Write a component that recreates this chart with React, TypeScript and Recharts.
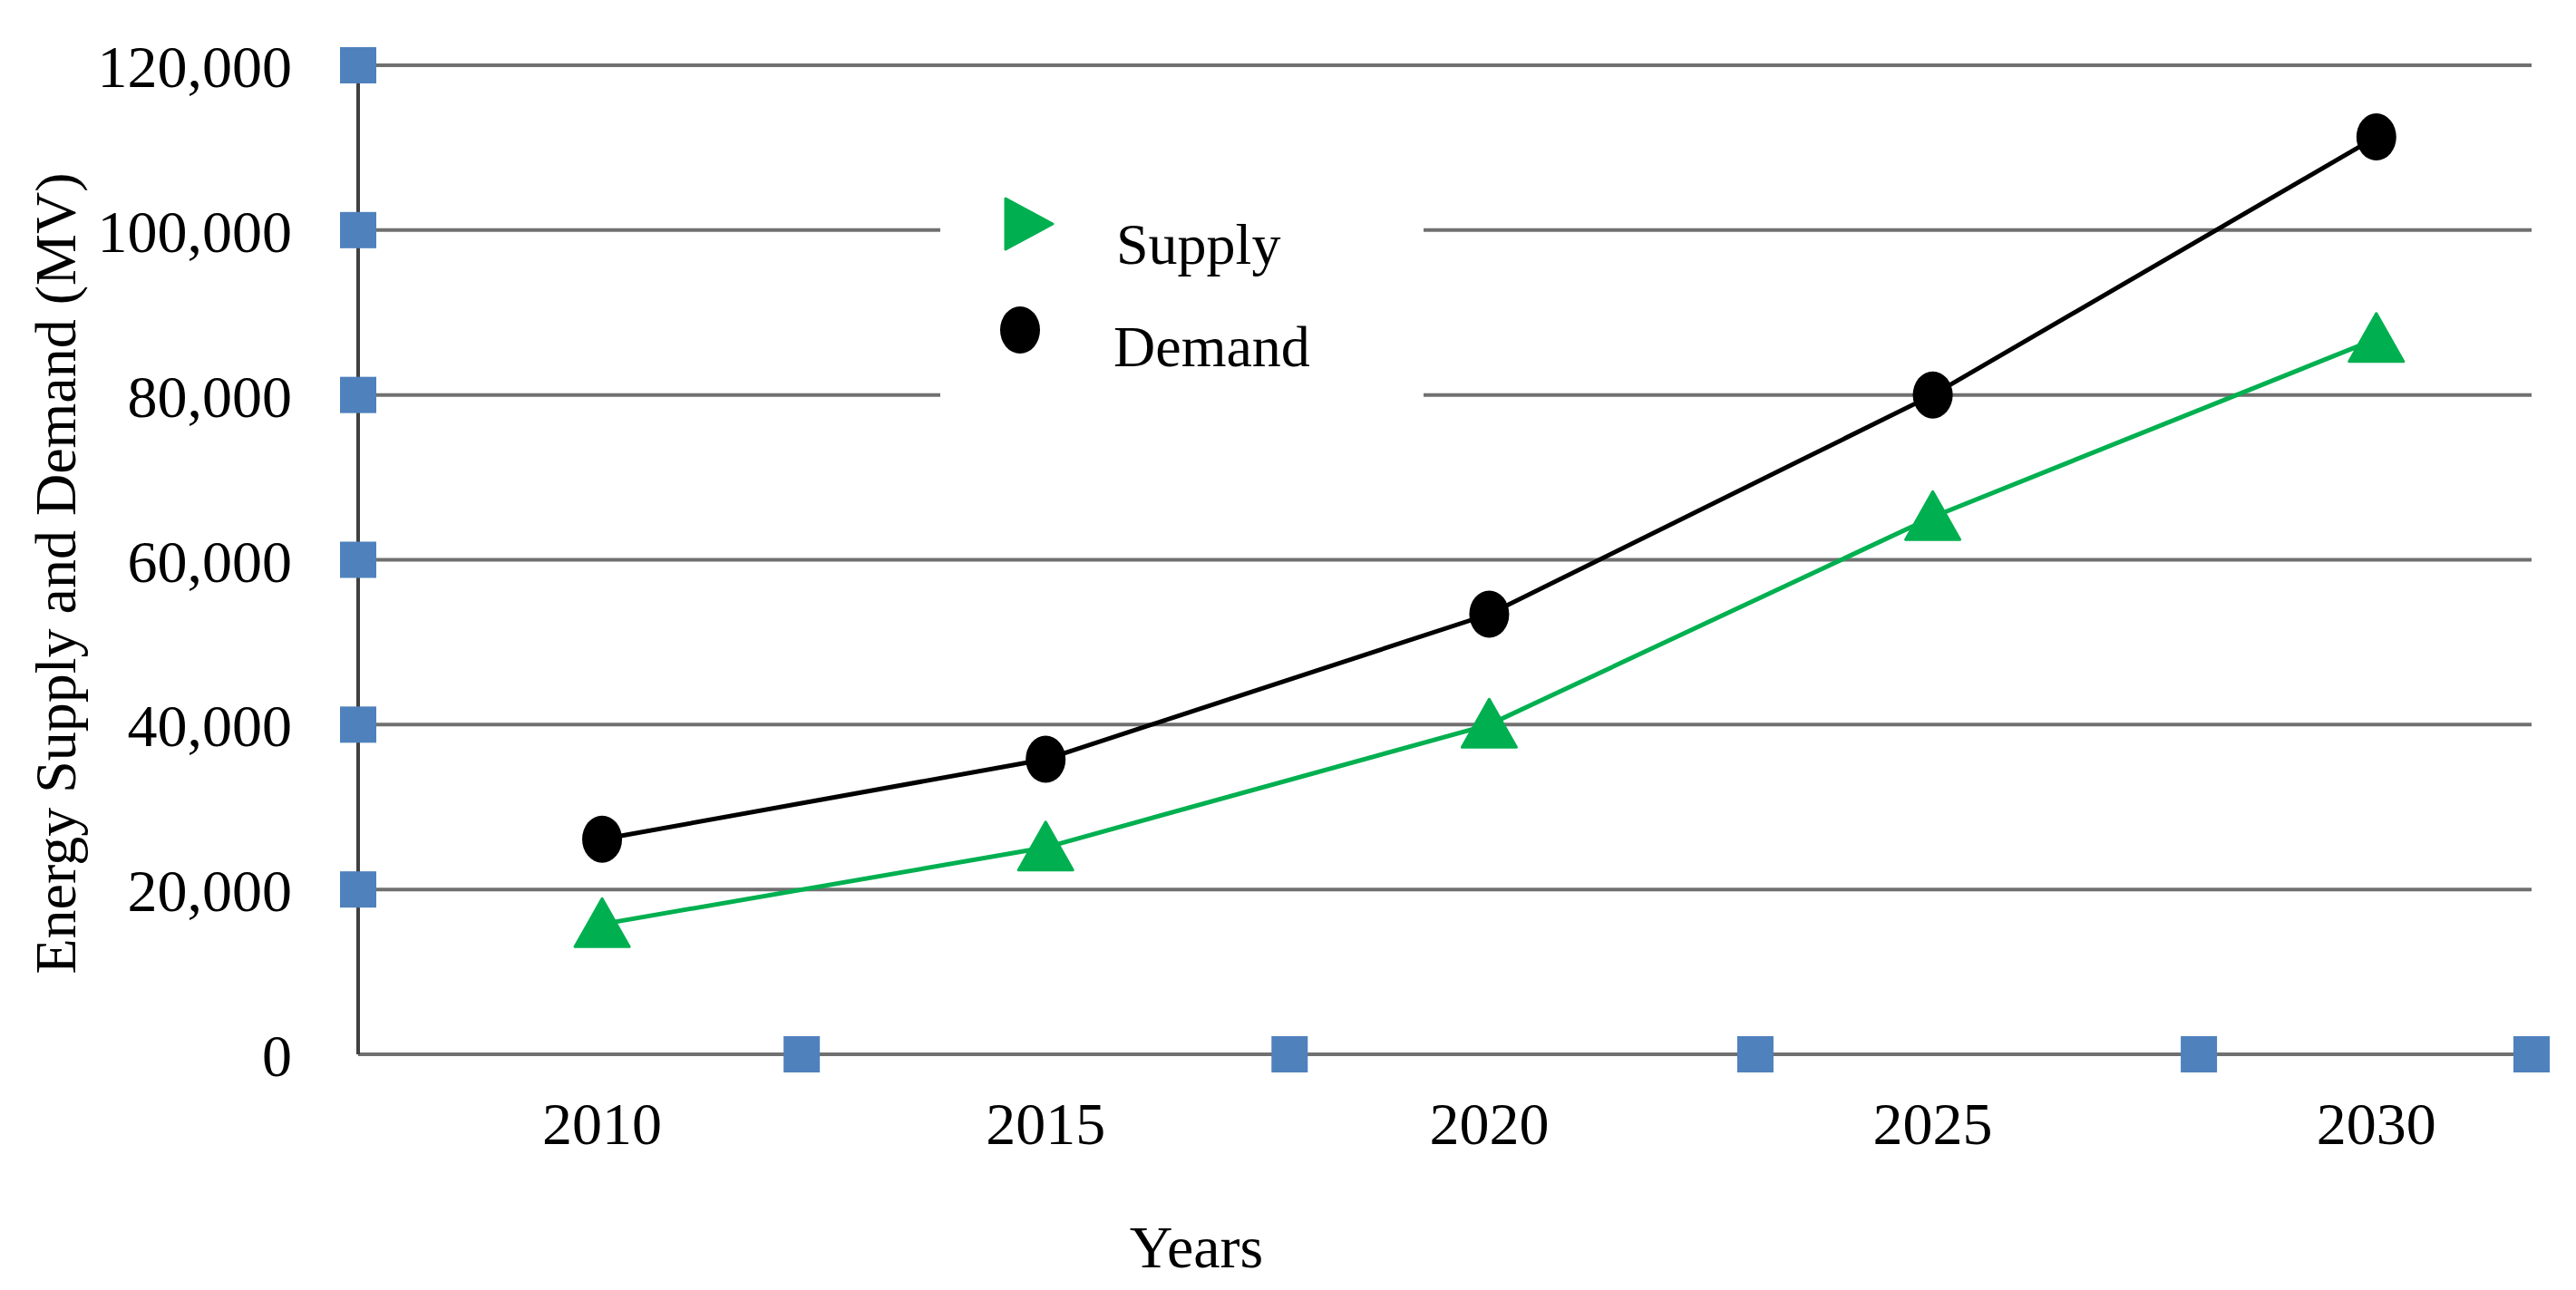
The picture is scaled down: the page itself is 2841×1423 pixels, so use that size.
import { CartesianGrid, Legend, Line, LineChart, XAxis, YAxis } from 'recharts'

const YEARS = [2010, 2015, 2020, 2025, 2030]
const SUPPLY = [15800, 25100, 40000, 65200, 86800]
const DEMAND = [26100, 35800, 53400, 80000, 111300]
const Y_TICKS = [0, 20000, 40000, 60000, 80000, 100000, 120000]
// blue square markers along the x axis
const X_MARKS = [2012.25, 2017.75, 2023, 2028, 2031.75]
const X_DOMAIN: [number, number] = [2007.25, 2031.75]

const FONT = '"Liberation Serif", "Times New Roman", serif'
const GREEN = '#00b050'
const SQUARE = '#4f81bd'
const GRID = '#707070'
const SQ = 40

const rows = YEARS.map((year, i) => ({ year, supply: SUPPLY[i], demand: DEMAND[i] }))
const xTicks = [...YEARS, ...X_MARKS].sort((a, b) => a - b)

function XTick({ x, y, payload }: any) {
  const v = payload.value as number
  if (YEARS.includes(v)) {
    return (
      <text x={x} y={y + 99} textAnchor="middle" fontFamily={FONT} fontSize={66} fill="#000">
        {v}
      </text>
    )
  }
  return <rect x={x - SQ / 2} y={y - SQ / 2} width={SQ} height={SQ} fill={SQUARE} />
}

function YTick({ x, y, payload }: any) {
  const v = payload.value as number
  return (
    <g>
      {v > 0 && <rect x={x + 73 - SQ / 2} y={y - SQ / 2} width={SQ} height={SQ} fill={SQUARE} />}
      <text x={x} y={y + 24} textAnchor="end" fontFamily={FONT} fontSize={66} fill="#000">
        {v.toLocaleString('en-US')}
      </text>
    </g>
  )
}

function TriangleDot({ cx, cy, fill }: any) {
  if (cx == null || cy == null) return null
  return <path d={`M${cx},${cy - 28} L${cx + 30},${cy + 25} L${cx - 30},${cy + 25} Z`} fill={fill} strokeLinejoin="round" stroke={fill} strokeWidth={3} />
}

function EllipseDot({ cx, cy }: any) {
  if (cx == null || cy == null) return null
  return <ellipse cx={cx} cy={cy} rx={22} ry={26} fill="#000" />
}

function LegendBox({ payload }: any) {
  const items = (payload ?? []) as any[]
  return (
    <svg width={533} height={247} style={{ display: 'block', background: '#fff' }}>
      {items.map((item) => {
        const isSupply = item.dataKey === 'supply'
        const my = isSupply ? 40 : 157
        const ty = isSupply ? 84 : 197
        return (
          <g key={item.dataKey}>
            {isSupply ? (
              <path d={`M${72},${my - 28} L${124},${my} L${72},${my + 28} Z`} fill={GREEN} stroke={GREEN} strokeWidth={3} strokeLinejoin="round" />
            ) : (
              <ellipse cx={88} cy={my} rx={22} ry={26} fill="#000" />
            )}
            <text x={isSupply ? 194 : 191} y={ty} fontFamily={FONT} fontSize={64} fill="#000">
              {item.value}
            </text>
          </g>
        )
      })}
    </svg>
  )
}

export default function App() {
  return (
    <div style={{ background: '#fff' }}>
      <LineChart width={2833} height={1415} data={rows} margin={{ top: 64, right: 49, left: 0, bottom: 0 }}>
        <CartesianGrid vertical={false} stroke={GRID} strokeWidth={4} />
        <XAxis
          dataKey="year"
          type="number"
          domain={X_DOMAIN}
          ticks={xTicks}
          interval={0}
          height={260}
          tickSize={0}
          tickMargin={0}
          tickLine={false}
          axisLine={{ stroke: GRID, strokeWidth: 4 }}
          tick={<XTick />}
          label={{ value: 'Years', position: 'insideBottom', offset: 25, dx: -274, fontFamily: FONT, fontSize: 66, fill: '#000' }}
        />
        <YAxis
          domain={[0, 120000]}
          ticks={Y_TICKS}
          interval={0}
          width={387}
          tickSize={0}
          tickMargin={73}
          tickLine={false}
          axisLine={{ stroke: '#404040', strokeWidth: 4 }}
          tick={<YTick />}
          label={{
            value: 'Energy Supply and Demand (MV)',
            angle: -90,
            position: 'insideLeft',
            offset: 52,
            dy: 15,
            fontFamily: FONT,
            fontSize: 64,
            fill: '#000',
            style: { textAnchor: 'middle' },
          }}
        />
        <YAxis yAxisId="right" orientation="right" width={0} tick={false} tickLine={false} axisLine={{ stroke: GRID, strokeWidth: 4 }} />
        <Legend
          layout="vertical"
          align="center"
          verticalAlign="middle"
          content={<LegendBox />}
          wrapperStyle={{ left: 1029, top: 199, width: 533, height: 247, background: '#fff' }}
        />
        <Line
          name="Supply"
          dataKey="supply"
          type="linear"
          stroke={GREEN}
          strokeWidth={5}
          dot={(p: any) => <TriangleDot key={`s${p.index}`} {...p} fill={GREEN} />}
          isAnimationActive={false}
        />
        <Line
          name="Demand"
          dataKey="demand"
          type="linear"
          stroke="#000"
          strokeWidth={5}
          dot={(p: any) => <EllipseDot key={`d${p.index}`} {...p} />}
          isAnimationActive={false}
        />
      </LineChart>
    </div>
  )
}
